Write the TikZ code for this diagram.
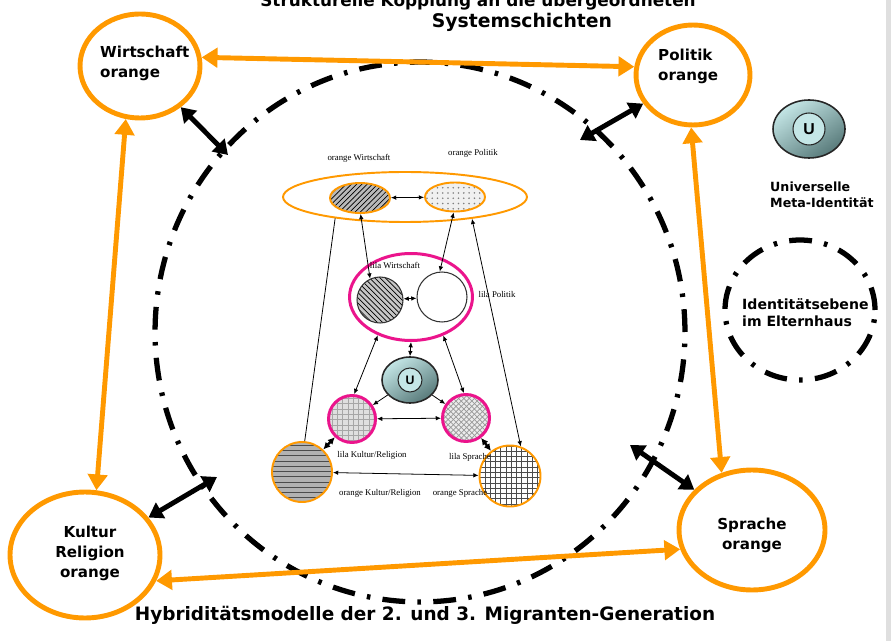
\documentclass[tikz,border=0pt]{standalone}
\usepackage{fontspec}
\setmainfont{Liberation Serif}
\setsansfont{Liberation Sans}
\newfontfamily\heavyfont{DejaVu Sans}
\usetikzlibrary{shapes.geometric,arrows.meta,patterns,positioning}

\definecolor{orng}{RGB}{255,153,0}
\definecolor{lila}{RGB}{235,20,140}
\definecolor{ulight}{RGB}{196,230,230}
\definecolor{udark}{RGB}{88,122,122}

\tikzset{
  sphere/.style={ellipse, draw=orng, line width=2.8pt, inner sep=0pt},
  oarrow/.style={draw=orng, line width=2.8pt,
    {Triangle[length=9pt,width=11pt]}-{Triangle[length=9pt,width=11pt]}},
  barrow/.style={line width=2.8pt,
    {Triangle[length=8pt,width=10pt]}-{Triangle[length=8pt,width=10pt]}},
  dashring/.style={ellipse, draw, line width=3pt, inner sep=0pt,
    dash pattern=on 13pt off 7pt on 2pt off 7pt},
  headline/.style={font=\heavyfont\bfseries\fontsize{8.6}{11.4}\selectfont, align=left},
  legendtext/.style={font=\heavyfont\bfseries\fontsize{7.2}{9}\selectfont, align=left},
  smalllabel/.style={font=\fontsize{5}{6}\selectfont},
  osub/.style={ellipse, draw=orng, line width=1.1pt, inner sep=0pt},
  lsub/.style={ellipse, draw=lila, line width=1.7pt, inner sep=0pt},
  udisc/.style={ellipse, draw=black!85, line width=0.9pt, inner sep=0pt,
    top color=ulight, bottom color=udark, shading angle=35},
  ukern/.style={circle, draw=black!85, line width=0.6pt, fill=ulight, inner sep=0pt},
  fine/.style={line width=0.45pt, {Latex[length=3pt,width=2.6pt]}-{Latex[length=3pt,width=2.6pt]}},
  fineto/.style={line width=0.45pt, -{Latex[length=3pt,width=2.6pt]}},
  bold/.style={line width=1.4pt, {Latex[length=4pt,width=4pt]}-{Latex[length=4pt,width=4pt]}},
}

\begin{document}
\begin{tikzpicture}[x=0.02cm, y=-0.02cm]
\useasboundingbox (0,0) rectangle (891,641);
\clip (0,0) rectangle (891,641);
\fill[white] (0,0) rectangle (891,641);
\fill[gray!25] (886,0) rectangle (891,641);

% titles
\node[font=\heavyfont\bfseries\fontsize{9.6}{12}\selectfont, anchor=base] (ttop) at (478,7)
  {Strukturelle Kopplung an die übergeordneten};
\node[font=\heavyfont\bfseries\fontsize{10.7}{12}\selectfont] (tsys) at (522,22) {Systemschichten};
\node[font=\heavyfont\bfseries\fontsize{10.5}{12}\selectfont] (tbot) at (425,615)
  {Hybriditätsmodelle der 2. und 3. Migranten-Generation};

% outer spheres
\node[sphere, minimum width=2.4cm, minimum height=2.08cm] (wi) at (140,66) {};
\node[sphere, minimum width=2.28cm, minimum height=2.0cm] (po) at (693,75) {};
\node[sphere, minimum width=3.0cm, minimum height=2.52cm] (ku) at (85,555) {};
\node[sphere, minimum width=2.92cm, minimum height=2.4cm] (sp) at (752,530) {};
\node[headline, anchor=west] (wit) at (94,63) {Wirtschaft\\orange};
\node[headline, anchor=west] (pot) at (652,66) {Politik\\orange};
\node[headline, align=center] (kut) at (90,553) {Kultur\\Religion\\orange};
\node[headline, align=center] (spt) at (752,535) {Sprache\\orange};

% identity ring
\node[dashring, minimum width=10.6cm, minimum height=10.8cm] (id) at (420,332) {};
\coordinate (idwi) at (228,155);
\coordinate (idpo) at (580,140);
\coordinate (idku) at (217,477);
\coordinate (idsp) at (630,445);

% orange links
\draw[oarrow] (wi.8) -- (po.172);
\draw[oarrow] (wi.-105) -- (ku.80);
\draw[oarrow] (po.-92) -- (sp.118);
\draw[oarrow] (ku.-20) -- (sp.195);

% black links to the ring
\draw[barrow] (wi) -- (idwi);
\draw[barrow] (po) -- (idpo);
\draw[barrow] (ku) -- (idku);
\draw[barrow] (sp) -- (idsp);

% legend
\node[udisc, minimum width=1.44cm, minimum height=1.16cm] (ulg) at (809,129) {};
\node[ukern, minimum size=0.64cm, font=\sffamily\bfseries\fontsize{9}{10}\selectfont] (ulgc) at (ulg) {U};
\node[legendtext, anchor=west] (ulgt) at (764,195) {Universelle\\Meta-Identität};
\node[dashring, minimum width=3.0cm, minimum height=2.8cm] (leg) at (800,310) {};
\node[legendtext, anchor=west, font=\heavyfont\bfseries\fontsize{8}{9.6}\selectfont]
  (legt) at (736,313) {Identitätsebene\\im Elternhaus};

% inner model: orange level
\node[osub, minimum width=4.88cm, minimum height=1.0cm] (oe) at (405,197) {};
\node[osub, minimum width=1.2cm, minimum height=0.6cm, pattern=north east lines,
  preaction={fill=gray!55}] (ow) at (360,198) {};
\node[osub, minimum width=1.2cm, minimum height=0.58cm, pattern=dots,
  pattern color=gray, preaction={fill=gray!12}] (op) at (455,197) {};
\node[smalllabel] (owt) at (359,158) {orange Wirtschaft};
\node[smalllabel] (opt) at (473,153) {orange Politik};

% inner model: lila level
\node[lsub, minimum width=2.46cm, minimum height=1.74cm] (pe) at (411,297) {};
\node[ellipse, draw=black!80, line width=0.6pt, minimum size=0.92cm, inner sep=0pt,
  pattern=north west lines, preaction={fill=gray!45}] (lw) at (380,300) {};
\node[ellipse, draw=black!80, line width=0.6pt, minimum size=1.0cm, inner sep=0pt,
  fill=white] (lp) at (442,297) {};
\node[smalllabel] (lwt) at (395,265) {lila Wirtschaft};
\node[smalllabel] (lpt) at (497,294) {lila Politik};

% inner model: universal core
\node[udisc, minimum width=1.12cm, minimum height=0.92cm] (ui) at (410,380) {};
\node[ukern, minimum size=0.48cm, font=\sffamily\bfseries\fontsize{7}{8}\selectfont] (uic) at (ui) {U};

% inner model: lower circles
\node[lsub, minimum size=0.94cm, pattern=grid, pattern color=gray!70,
  preaction={fill=gray!25}] (lk) at (352,419) {};
\node[lsub, minimum size=0.94cm, pattern=crosshatch, pattern color=gray!80,
  preaction={fill=gray!15}] (ls) at (466,418) {};
\node[osub, minimum size=1.2cm, pattern=horizontal lines, pattern color=black!70,
  preaction={fill=gray!60}] (ok) at (302,472) {};
\node[osub, minimum size=1.22cm, pattern=grid, pattern color=black!70,
  preaction={fill=white}] (os) at (510,476) {};
\node[smalllabel] (lkt) at (372,455) {lila Kultur/Religion};
\node[smalllabel] (lst) at (470,457) {lila Sprache};
\node[smalllabel] (okt) at (380,493) {orange Kultur/Religion};
\node[smalllabel] (ost) at (460,493) {orange Sprache};

% inner links
\draw[fine] (ow) -- (op);
\draw[fine] (lw) -- (lp);
\draw[fine] (ow.-88) -- (lw.115);
\draw[fine] (op.-95) -- (lp.95);
\draw[line width=0.45pt] (oe.197) -- (ok.85);
\draw[fine] (oe.-18) -- (os.70);
\draw[fine] (pe.-131) -- (lk.85);
\draw[fine] (pe.-50) -- (ls.95);
\draw[fine] (pe.south) -- (ui.north);
\draw[fineto] (ui) -- (lk);
\draw[fineto] (ui) -- (ls);
\draw[fine] (lk) -- (ls);
\draw[fine] (ok) -- (os);
\draw[bold] (lk) -- (ok);
\draw[bold] (ls) -- (os);

\end{tikzpicture}
\end{document}
